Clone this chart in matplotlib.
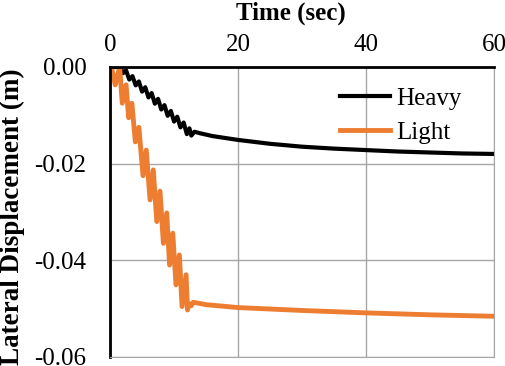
import matplotlib
matplotlib.use('Agg')
import matplotlib.pyplot as plt

plt.rcParams['font.family'] = ['Liberation Serif', 'DejaVu Serif']
plt.rcParams['axes.unicode_minus'] = False

# Heavy case - time (sec) and lateral displacement (m)
heavy_t = [0.0, 1.0, 1.6, 2.0, 2.5, 3.0, 3.5, 4.0, 4.5, 5.0, 5.5, 6.0, 6.5, 7.0, 7.5,
           8.0, 8.5, 9.0, 9.5, 10.0, 10.5, 11.0, 11.5, 12.0, 12.4, 12.7, 13.2, 14.0,
           16.0, 20.0, 25.0, 30.0, 35.0, 40.0, 45.0, 50.0, 55.0, 60.0]
heavy_d = [0.0, 0.0, 0.0, -0.0013, -0.0007, -0.0026, -0.0019, -0.0038, -0.0030,
           -0.0051, -0.0042, -0.0063, -0.0054, -0.0076, -0.0066, -0.0088, -0.0079,
           -0.0101, -0.0091, -0.0113, -0.0103, -0.0125, -0.0115, -0.0139, -0.0127,
           -0.0142, -0.0134, -0.0137, -0.0143, -0.0151, -0.0159, -0.0165, -0.0169,
           -0.0172, -0.0175, -0.0177, -0.0179, -0.0180]

# Light case
light_t = [0.0, 0.2, 0.8, 1.5, 1.9, 2.5, 2.9, 3.4, 3.95, 4.5, 5.15, 5.65, 6.25, 6.75,
           7.3, 7.8, 8.33, 8.85, 9.3, 9.8, 10.3, 10.83, 11.25, 11.88, 12.1, 12.4, 12.7,
           13.0, 15.0, 20.0, 30.0, 40.0, 50.0, 60.0]
light_d = [0.0, 0.0, -0.0037, 0.0, -0.0075, -0.0037, -0.0105, -0.0075, -0.0155,
           -0.0125, -0.0225, -0.0172, -0.0275, -0.0213, -0.0320, -0.0257, -0.0365,
           -0.0302, -0.0410, -0.0344, -0.0451, -0.0389, -0.0496, -0.0430, -0.0503,
           -0.0490, -0.0494, -0.0487, -0.0492, -0.0498, -0.0504, -0.0509, -0.0513,
           -0.0516]

fig = plt.figure(figsize=(5.05, 3.66), dpi=100)
ax = fig.add_axes([0.218, 0.025, 0.760, 0.792])

ax.plot(heavy_t, heavy_d, color='black', lw=3, label='Heavy')
ax.plot(light_t, light_d, color='#ED7D31', lw=3.5, label='Light')

ax.set_xlim(0, 60)
ax.set_ylim(-0.06, 0)
ax.set_xticks([0, 20, 40, 60])
ax.set_yticks([0, -0.02, -0.04, -0.06])
ax.set_yticklabels(['%.2f' % v for v in [0, -0.02, -0.04, -0.06]])

ax.xaxis.tick_top()
ax.xaxis.set_label_position('top')
ax.tick_params(length=0, labelsize=18)
ax.tick_params(axis='x', pad=8)
ax.tick_params(axis='y', pad=17)

ax.grid(True, color='#A6A6A6', lw=1)
ax.set_axisbelow(True)
ax.spines['top'].set_color('black')
ax.spines['top'].set_linewidth(2)
ax.spines['left'].set_color('black')
ax.spines['left'].set_linewidth(2)
ax.spines['right'].set_color('#A6A6A6')
ax.spines['bottom'].set_color('#A6A6A6')

ax.set_xlabel('Time (sec)', fontsize=18, fontweight='bold')
ax.xaxis.set_label_coords(0.471, 1.165)
ax.set_ylabel('Lateral Displacement (m)', fontsize=19.5, fontweight='bold')
ax.yaxis.set_label_coords(-0.222, 0.485)

ax.legend(loc='center left', bbox_to_anchor=(0.673, 0.684), bbox_transform=fig.transFigure,
          frameon=False, fontsize=18, handlelength=2.0, handletextpad=0.25,
          borderpad=0, borderaxespad=0, labelspacing=0.45)

fig.savefig('out.png', dpi=100)
